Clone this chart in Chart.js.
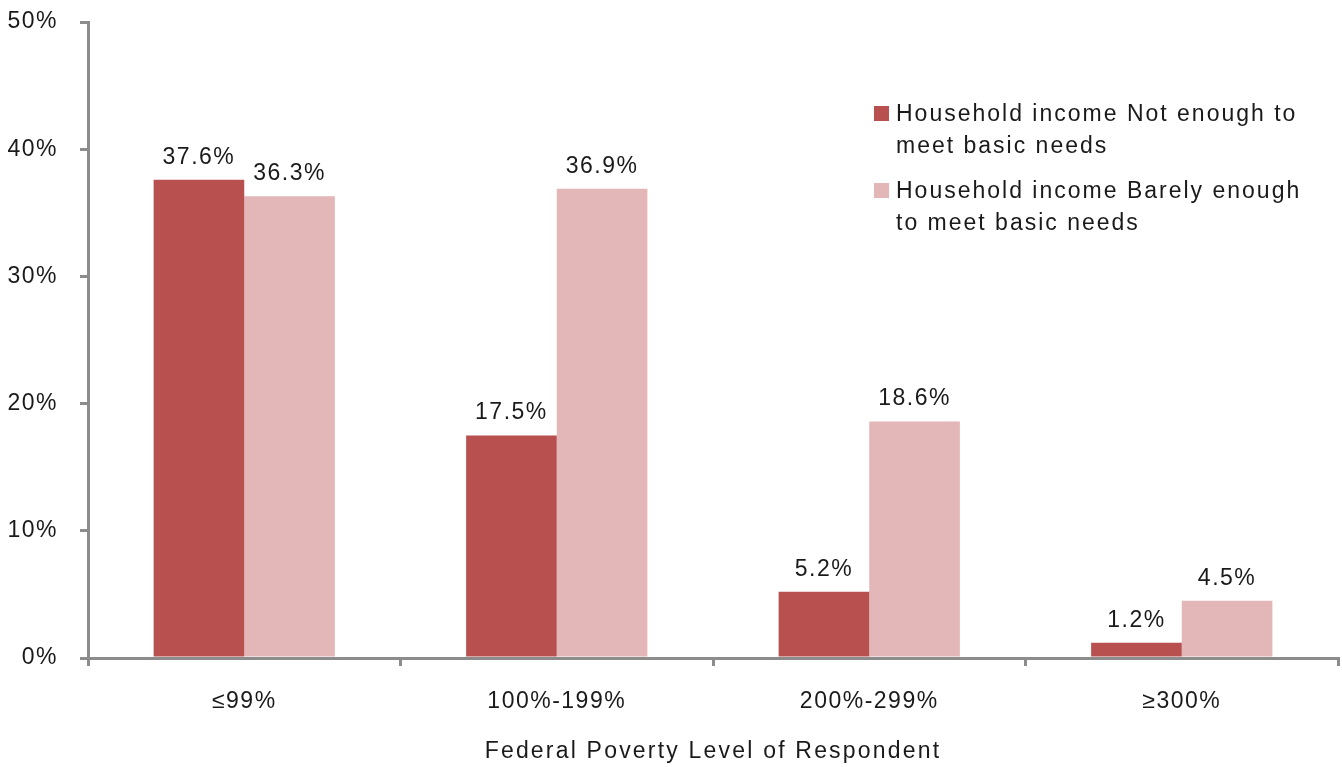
<!DOCTYPE html>
<html>
<head>
<meta charset="utf-8">
<script src="https://cdn.jsdelivr.net/npm/chart.js@4/dist/chart.umd.min.js"></script>
<style>
  html, body { margin: 0; padding: 0; background: #fff; }
  #wrap { width: 1342px; height: 767px; position: relative; }
</style>
</head>
<body>
<div id="wrap"><canvas id="povertyChart"></canvas></div>
<script>
const categories = ["\u226499%", "100%-199%", "200%-299%", "\u2265300%"];
const notEnough = [37.6, 17.5, 5.2, 1.2];
const barelyEnough = [36.3, 36.9, 18.6, 4.5];
const seriesNames = [
  "Household income Not enough to meet basic needs",
  "Household income Barely enough to meet basic needs"
];
const legendLines = [
  ["Household income Not enough to", "meet basic needs"],
  ["Household income Barely enough", "to meet basic needs"]
];
const yTicks = [0, 10, 20, 30, 40, 50];
const xTitle = "Federal Poverty Level of Respondent";

const FONT = "'Liberation Sans Narrow', 'Arial Narrow', 'Liberation Sans', Arial, sans-serif";
const AXIS = "#8c8c8c";
const TEXT = "#1a1a1a";
const SPACING = "1.5px";

const spacingPlugin = {
  id: "spacing",
  beforeUpdate(chart) { chart.ctx.letterSpacing = SPACING; },
  beforeDraw(chart) { chart.ctx.letterSpacing = SPACING; }
};

const valueLabels = {
  id: "valueLabels",
  afterDatasetsDraw(chart) {
    const ctx = chart.ctx;
    ctx.save();
    ctx.letterSpacing = "1.5px";
    ctx.font = "23px " + FONT;
    ctx.fillStyle = TEXT;
    ctx.textAlign = "center";
    ctx.textBaseline = "alphabetic";
    chart.data.datasets.forEach((ds, i) => {
      chart.getDatasetMeta(i).data.forEach((bar, j) => {
        ctx.fillText(ds.data[j].toFixed(1) + "%", bar.x, bar.y - 16);
      });
    });
    ctx.restore();
  }
};

const sideLegend = {
  id: "sideLegend",
  afterDraw(chart) {
    const ctx = chart.ctx;
    ctx.save();
    ctx.letterSpacing = "2px";
    ctx.font = "23px " + FONT;
    ctx.textBaseline = "middle";
    let y = 115;
    chart.data.datasets.forEach((ds, i) => {
      ctx.fillStyle = ds.backgroundColor;
      ctx.fillRect(874, y - 9, 15, 15);
      ctx.fillStyle = TEXT;
      legendLines[i].forEach((line, k) => {
        ctx.fillText(line, 896, y + k * 32);
      });
      y += 77;
    });
    // x axis title, drawn here for its wider letter spacing
    const xs = chart.scales.x;
    ctx.letterSpacing = "2.2px";
    ctx.textAlign = "center";
    ctx.fillText(xTitle, (xs.left + xs.right) / 2, 752);
    ctx.restore();
  }
};

new Chart(document.getElementById("povertyChart"), {
  type: "bar",
  data: {
    labels: categories,
    datasets: [
      { label: seriesNames[0], data: notEnough, backgroundColor: "#b85050" },
      { label: seriesNames[1], data: barelyEnough, backgroundColor: "#e3b6b8" }
    ]
  },
  options: {
    responsive: true,
    maintainAspectRatio: false,
    animation: false,
    layout: { padding: { top: 22, right: 4, left: 0, bottom: 0 } },
    datasets: { bar: { categoryPercentage: 0.58, barPercentage: 1.0 } },
    plugins: {
      legend: { display: false },
      tooltip: { enabled: false }
    },
    scales: {
      x: {
        grid: { display: true, drawOnChartArea: false, drawTicks: true, tickLength: 8, color: AXIS, lineWidth: 3 },
        border: { color: AXIS, width: 3 },
        ticks: { color: TEXT, font: { family: FONT, size: 23 }, padding: 22 },
        afterFit(scale) { scale.height = 109; }
      },
      y: {
        min: 0,
        max: 50,
        afterBuildTicks(scale) { scale.ticks = yTicks.map(v => ({ value: v })); },
        grid: { display: true, drawOnChartArea: false, drawTicks: true, tickLength: 8, color: AXIS, lineWidth: 3 },
        border: { color: AXIS, width: 3 },
        ticks: { color: TEXT, font: { family: FONT, size: 23 }, padding: 22, callback: v => v + "%" },
        afterFit(scale) {
          scale.width = 88;
          scale.paddingTop = 0;
          scale.paddingBottom = 0;
        }
      }
    }
  },
  plugins: [spacingPlugin, valueLabels, sideLegend]
});
</script>
</body>
</html>
